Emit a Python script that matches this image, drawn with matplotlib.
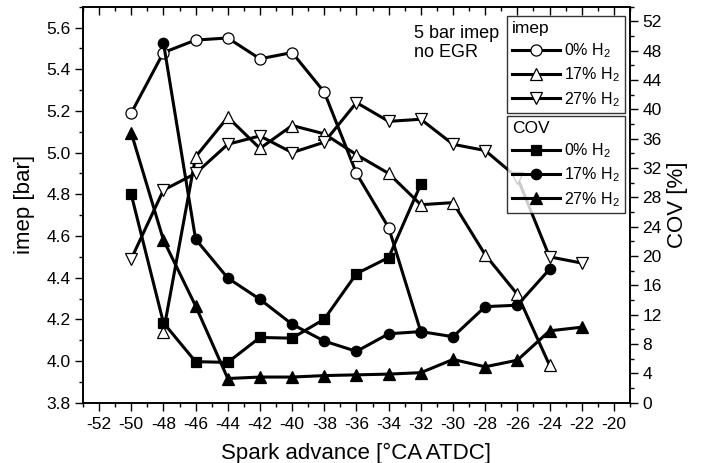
import matplotlib
matplotlib.use("Agg")
import matplotlib.pyplot as plt
from matplotlib.ticker import MultipleLocator
from matplotlib.lines import TICKDOWN

plt.rcParams['font.family'] = ['Liberation Sans', 'DejaVu Sans']
plt.rcParams['mathtext.fontset'] = 'custom'
plt.rcParams['mathtext.rm'] = 'Liberation Sans'
plt.rcParams['mathtext.it'] = 'Liberation Sans:italic'
plt.rcParams['axes.unicode_minus'] = False

# ---- data ----
x_imep0 = [-50, -48, -46, -44, -42, -40, -38, -36, -34, -32]
imep0 = [5.19, 5.48, 5.54, 5.55, 5.45, 5.48, 5.29, 4.90, 4.64, 4.14]

x_imep17 = [-48, -46, -44, -42, -40, -38, -36, -34, -32, -30, -28, -26, -24]
imep17 = [4.14, 4.98, 5.17, 5.02, 5.13, 5.09, 4.99, 4.90, 4.75, 4.76, 4.51, 4.32, 3.98]

x_imep27 = [-50, -48, -46, -44, -42, -40, -38, -36, -34, -32, -30, -28, -26, -24, -22]
imep27 = [4.49, 4.82, 4.90, 5.04, 5.08, 5.00, 5.05, 5.24, 5.15, 5.16, 5.04, 5.01, 4.88, 4.50, 4.47]

x_cov0 = [-50, -48, -46, -44, -42, -40, -38, -36, -34, -32]
cov0 = [28.4, 10.9, 5.6, 5.5, 8.9, 8.8, 11.4, 17.6, 19.8, 29.8]

x_cov17 = [-48, -46, -44, -42, -40, -38, -36, -34, -32, -30, -28, -26, -24]
cov17 = [49.1, 22.3, 17.0, 14.1, 10.7, 8.4, 7.0, 9.4, 9.7, 9.0, 13.1, 13.3, 18.2]

x_cov27 = [-50, -48, -46, -44, -42, -40, -38, -36, -34, -32, -30, -28, -26, -24, -22]
cov27 = [36.8, 22.2, 13.2, 3.3, 3.5, 3.5, 3.7, 3.8, 3.9, 4.1, 5.9, 4.9, 5.8, 9.8, 10.3]

labels = ["0% H$_2$", "17% H$_2$", "27% H$_2$"]

fig = plt.figure(figsize=(7.05, 4.63), dpi=100)
ax = fig.add_axes([0.1177, 0.1302, 0.7759, 0.8553])
ax2 = ax.twinx()

lw = 2.2
common = dict(color='black', lw=lw, markeredgecolor='black', markeredgewidth=0.9)

l1, = ax.plot(x_imep0, imep0, marker='o', markerfacecolor='white', ms=8, **common)
l2, = ax.plot(x_imep17, imep17, marker='^', markerfacecolor='white', ms=9, **common)
l3, = ax.plot(x_imep27, imep27, marker='v', markerfacecolor='white', ms=9, **common)

c1, = ax2.plot(x_cov0, cov0, marker='s', markerfacecolor='black', ms=6.5, **common)
c2, = ax2.plot(x_cov17, cov17, marker='o', markerfacecolor='black', ms=7.5, **common)
c3, = ax2.plot(x_cov27, cov27, marker='^', markerfacecolor='black', ms=8, **common)

ax.set_xlim(-53, -19)
ax.set_ylim(3.8, 5.7)
ax2.set_ylim(0, 54)

ax.xaxis.set_major_locator(MultipleLocator(2))
ax.xaxis.set_minor_locator(MultipleLocator(1))
ax.yaxis.set_major_locator(MultipleLocator(0.2))
ax.yaxis.set_minor_locator(MultipleLocator(0.1))
ax2.yaxis.set_major_locator(MultipleLocator(4))
ax2.yaxis.set_minor_locator(MultipleLocator(2))
ax.yaxis.set_major_formatter(plt.FormatStrFormatter('%.1f'))

tfs = 12.5
ax.tick_params(axis='x', which='both', direction='out', top=True, labelsize=tfs, pad=4)
ax.tick_params(axis='x', which='major', length=6, width=1)
ax.tick_params(axis='x', which='minor', length=3, width=1)
ax.tick_params(axis='y', which='major', direction='out', length=6, width=1, labelsize=tfs, pad=3)
ax.tick_params(axis='y', which='minor', direction='out', length=3, width=1)
ax2.tick_params(axis='y', which='major', direction='out', length=6, width=1, labelsize=tfs, pad=3)
ax2.tick_params(axis='y', which='minor', direction='out', length=3, width=1)
for t in ax.xaxis.get_major_ticks() + ax.xaxis.get_minor_ticks():
    t.tick2line.set_marker(TICKDOWN)

for s in ax.spines.values():
    s.set_linewidth(1.2)
for s in ax2.spines.values():
    s.set_linewidth(1.2)

ax.set_xlabel("Spark advance [°CA ATDC]", fontsize=16, labelpad=8)
ax.set_ylabel("imep [bar]", fontsize=16, labelpad=8)
ax2.set_ylabel("COV [%]", fontsize=16, labelpad=4)

ax.text(-32.4, 5.613, "5 bar imep\nno EGR", fontsize=13, ha='left', va='top', linespacing=1.15)

leg_kw = dict(frameon=True, fancybox=False, edgecolor='black', fontsize=11.5,
              title_fontsize=12.5, handlelength=3.0, handletextpad=0.3,
              borderpad=0.3, labelspacing=0.35, borderaxespad=0, alignment='left')
leg1 = ax2.legend([l1, l2, l3], labels, title="imep", loc='upper right',
                  bbox_to_anchor=(0.991, 0.9765), **leg_kw)
leg1.get_frame().set_linewidth(1.0)
ax2.add_artist(leg1)
leg2 = ax2.legend([c1, c2, c3], labels, title="COV", loc='upper right',
                  bbox_to_anchor=(0.991, 0.724), **leg_kw)
leg2.get_frame().set_linewidth(1.0)
leg1.set_zorder(10)
leg2.set_zorder(10)

fig.savefig("out.png", dpi=100)
